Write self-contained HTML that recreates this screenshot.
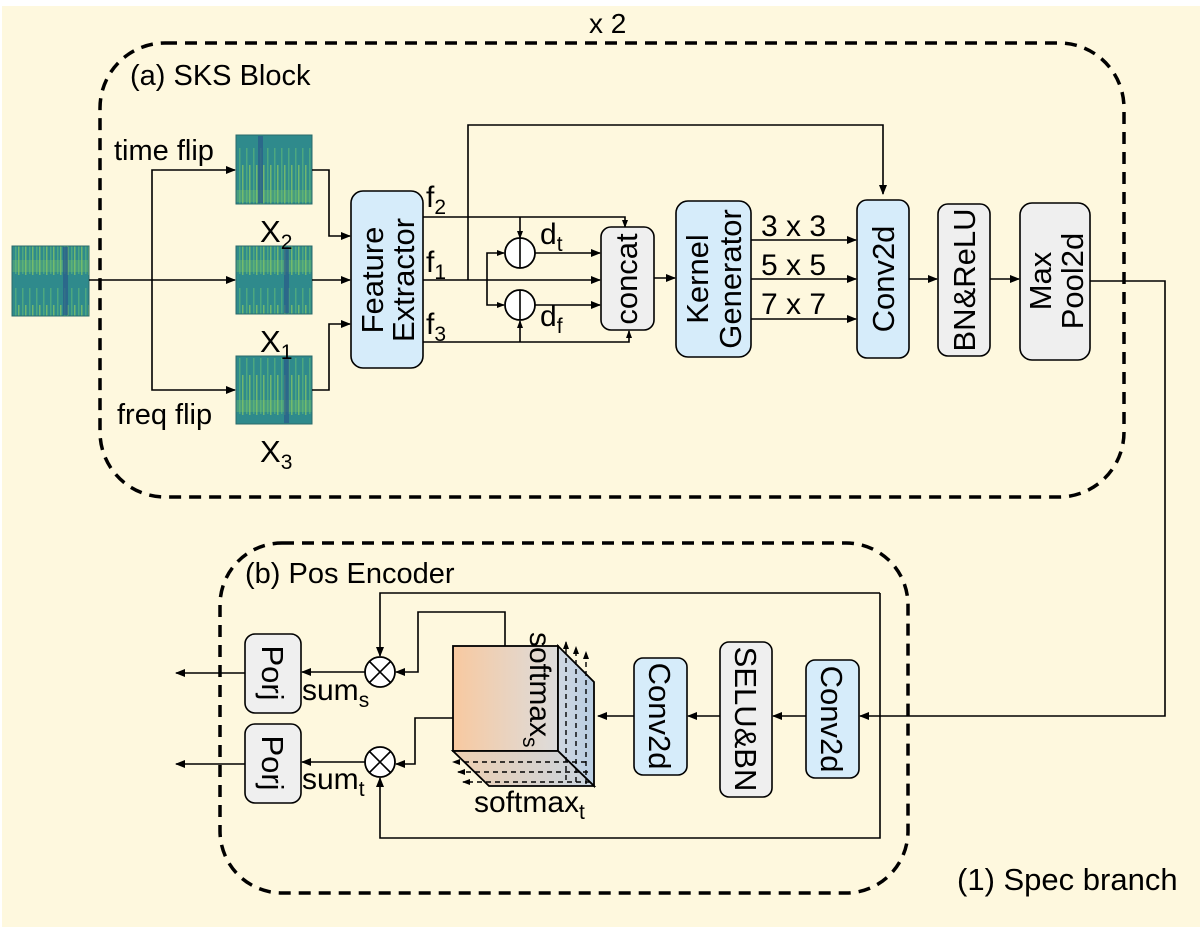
<!DOCTYPE html>
<html><head><meta charset="utf-8"><style>
html,body{margin:0;padding:0;background:#fff;}
svg{display:block;font-family:"Liberation Sans",Arial,sans-serif;}
</style></head><body>
<svg width="1200" height="930" viewBox="0 0 1200 930" xmlns="http://www.w3.org/2000/svg">
<defs>
<marker id="a" markerWidth="10" markerHeight="8" refX="9" refY="4" orient="auto" markerUnits="userSpaceOnUse"><path d="M0,0 L10,4 L0,8 Z" fill="#000"/></marker>
<marker id="s" markerWidth="8" markerHeight="6" refX="7" refY="3" orient="auto" markerUnits="userSpaceOnUse"><path d="M0,0 L8,3 L0,6 Z" fill="#000"/></marker>
<pattern id="sp" width="7" height="70" patternUnits="userSpaceOnUse">
<rect width="7" height="70" fill="#2f8a8c"/>
<rect x="1" y="8" width="1.5" height="56" fill="#58b47a" opacity="0.7"/>
<rect x="4" y="25" width="1.5" height="40" fill="#9ad45a" opacity="0.6"/>
<rect x="0" y="50" width="7" height="12" fill="#7fc864" opacity="0.3"/>
</pattern>
<linearGradient id="cf" x1="0" x2="1" y1="0" y2="0"><stop offset="0" stop-color="#f8c9a0"/><stop offset="1" stop-color="#dcdcdc"/></linearGradient>
<linearGradient id="cr" x1="0" x2="1"><stop offset="0" stop-color="#d0d8e2"/><stop offset="1" stop-color="#b8cde2"/></linearGradient>
<linearGradient id="cb" x1="0" x2="1"><stop offset="0" stop-color="#efcfb0"/><stop offset="1" stop-color="#c8d4e0"/></linearGradient>
</defs>
<rect x="2" y="6" width="1198" height="921" fill="#fef8de"/>
<g fill="none" stroke="#000" stroke-width="3.5" stroke-dasharray="12,8">
<rect x="100" y="43" width="1024" height="454" rx="65"/>
<rect x="220" y="543" width="688" height="350" rx="62"/>
</g>
<g font-size="30" fill="#000">
<text x="589" y="33" font-size="28">x 2</text>
<text x="130" y="85" font-size="29">(a) SKS Block</text>
<text x="245" y="583" font-size="29">(b) Pos Encoder</text>
<text x="957" y="890" font-size="31">(1) Spec branch</text>
<text x="114" y="160" font-size="29">time flip</text>
<text x="117" y="424" font-size="29">freq flip</text>
</g>
<g stroke="#2a6a6a" stroke-width="1">
<rect x="12" y="246" width="77" height="70" fill="url(#sp)"/>
<rect x="236" y="135" width="76" height="69" fill="url(#sp)"/>
<rect x="236" y="246" width="76" height="68" fill="url(#sp)"/>
<rect x="236" y="356" width="76" height="68" fill="url(#sp)"/>
</g>
<g fill="#2a5a8a" opacity="0.7"><rect x="63" y="247" width="5" height="68"/><rect x="258" y="136" width="5" height="67"/><rect x="284" y="247" width="5" height="66"/><rect x="284" y="357" width="5" height="66"/></g>
<g font-size="31"><text x="260" y="242">X<tspan font-size="21" dy="7">2</tspan></text>
<text x="260" y="352">X<tspan font-size="21" dy="7">1</tspan></text>
<text x="260" y="462">X<tspan font-size="21" dy="7">3</tspan></text></g>
<g fill="none" stroke="#000" stroke-width="1.6">
<path d="M89,280 H235" marker-end="url(#a)"/>
<path d="M152,280 V170 H235" marker-end="url(#a)"/>
<path d="M152,280 V390 H235" marker-end="url(#a)"/>
<path d="M312,170 H329 V236 H350" marker-end="url(#a)"/>
<path d="M312,280 H350" marker-end="url(#a)"/>
<path d="M312,390 H329 V324 H350" marker-end="url(#a)"/>
<path d="M423,217 H625 V227" marker-end="url(#s)"/>
<path d="M423,280 H600" marker-end="url(#a)"/>
<path d="M423,342 H629 V331" marker-end="url(#s)"/>
<path d="M468,280 V125 H883 V194" marker-end="url(#a)"/>
<path d="M520,217 V238" marker-end="url(#s)"/>
<path d="M520,342 V321" marker-end="url(#s)"/>
<path d="M487,280 V253 H504" marker-end="url(#s)"/>
<path d="M487,280 V305 H504" marker-end="url(#s)"/>
<path d="M535,253 H600" marker-end="url(#a)"/>
<path d="M535,305 H600" marker-end="url(#a)"/>
<path d="M654,278 H675" marker-end="url(#a)"/>
<path d="M751,240 H856" marker-end="url(#a)"/>
<path d="M751,279 H856" marker-end="url(#a)"/>
<path d="M751,319 H856" marker-end="url(#a)"/>
<path d="M909,279 H937" marker-end="url(#a)"/>
<path d="M990,279 H1019" marker-end="url(#a)"/>
<path d="M1090,281 H1165 V716 H860" marker-end="url(#a)"/>
<path d="M806,716 H773" marker-end="url(#a)"/>
<path d="M720,716 H688" marker-end="url(#a)"/>
<path d="M634,716 H598" marker-end="url(#a)"/>
<path d="M880,593 H380 V656" marker-end="url(#a)"/>
<path d="M880,593 V838 H380 V778" marker-end="url(#a)"/>
<path d="M505,646 V612 H418 V672 H396" marker-end="url(#a)"/>
<path d="M453,718 H415 V764 H396" marker-end="url(#a)"/>
<path d="M365,672 H302" marker-end="url(#a)"/>
<path d="M365,762 H302" marker-end="url(#a)"/>
<path d="M245,673 H176" marker-end="url(#a)"/>
<path d="M245,764 H176" marker-end="url(#a)"/>
</g>
<g fill="#fff" stroke="#000" stroke-width="1.8">
<circle cx="520" cy="253" r="15"/><circle cx="520" cy="305" r="15"/>
<circle cx="380" cy="672" r="15"/><circle cx="380" cy="762" r="15"/>
</g>
<g stroke="#000" stroke-width="1.6">
<path d="M520,238 V268 M520,290 V320"/>
<path d="M369,661 L391,683 M391,661 L369,683 M369,751 L391,773 M391,751 L369,773"/>
</g>
<g font-size="30">
<text x="426" y="207">f<tspan font-size="21" dy="7">2</tspan></text>
<text x="426" y="272">f<tspan font-size="21" dy="7">1</tspan></text>
<text x="426" y="334">f<tspan font-size="21" dy="7">3</tspan></text>
<text x="540" y="244">d<tspan font-size="21" dy="7">t</tspan></text>
<text x="540" y="326">d<tspan font-size="21" dy="7">f</tspan></text>
<text x="761" y="236">3 x 3</text>
<text x="761" y="275">5 x 5</text>
<text x="761" y="314">7 x 7</text>
<text x="302" y="700">sum<tspan font-size="21" dy="7">s</tspan></text>
<text x="302" y="789">sum<tspan font-size="21" dy="7">t</tspan></text>
</g>
<g stroke="#000" stroke-width="1.6">
<rect x="351" y="191" width="72" height="177" rx="12" fill="#d6ecfa"/>
<rect x="601" y="227" width="53" height="103" rx="10" fill="#efefef"/>
<rect x="676" y="201" width="75" height="156" rx="12" fill="#d6ecfa"/>
<rect x="857" y="200" width="52" height="158" rx="10" fill="#d6ecfa"/>
<rect x="938" y="204" width="52" height="152" rx="10" fill="#efefef"/>
<rect x="1020" y="203" width="70" height="157" rx="12" fill="#efefef"/>
<rect x="806" y="660" width="53" height="118" rx="9" fill="#d6ecfa"/>
<rect x="720" y="642" width="52" height="155" rx="9" fill="#efefef"/>
<rect x="634" y="658" width="53" height="117" rx="9" fill="#d6ecfa"/>
<rect x="245" y="634" width="56" height="79" rx="10" fill="#efefef"/>
<rect x="245" y="724" width="56" height="79" rx="10" fill="#efefef"/>
</g>
<g font-size="31" text-anchor="middle">
<text transform="translate(383,280) rotate(-90)">Feature</text>
<text transform="translate(414,280) rotate(-90)">Extractor</text>
<text transform="translate(637,279) rotate(-90)">concat</text>
<text transform="translate(708,279) rotate(-90)">Kernel</text>
<text transform="translate(741,279) rotate(-90)">Generator</text>
<text transform="translate(894,279) rotate(-90)">Conv2d</text>
<text transform="translate(975,280) rotate(-90)">BN&amp;ReLU</text>
<text transform="translate(1051,281) rotate(-90)">Max</text>
<text transform="translate(1083,281) rotate(-90)">Pool2d</text>
<text transform="translate(821,719) rotate(90)">Conv2d</text>
<text transform="translate(735,719) rotate(90)">SELU&amp;BN</text>
<text transform="translate(649,716) rotate(90)">Conv2d</text>
<text transform="translate(262,673) rotate(90)">Porj</text>
<text transform="translate(262,763) rotate(90)">Porj</text>
</g>
<g stroke="#000" stroke-width="1.8">
<rect x="453" y="646" width="105" height="105" fill="url(#cf)"/>
<path d="M558,646 L594,682 L594,786 L558,751 Z" fill="url(#cr)"/>
<path d="M453,751 L558,751 L594,786 L489,786 Z" fill="url(#cb)"/>
</g>
<g stroke="#000" stroke-width="1.4" stroke-dasharray="5,4" fill="none">
<path d="M566,780 V642" marker-end="url(#s)"/>
<path d="M576,782 V647" marker-end="url(#s)"/>
<path d="M586,784 V652" marker-end="url(#s)"/>
<path d="M586,762 H453" marker-end="url(#s)"/>
<path d="M588,772 H458" marker-end="url(#s)"/>
<path d="M590,782 H463" marker-end="url(#s)"/>
</g>
<text transform="translate(530,632) rotate(90)" font-size="30">softmax<tspan font-size="21" dy="7">s</tspan></text>
<text x="474" y="812" font-size="30">softmax<tspan font-size="21" dy="7">t</tspan></text>
</svg>
</body></html>
